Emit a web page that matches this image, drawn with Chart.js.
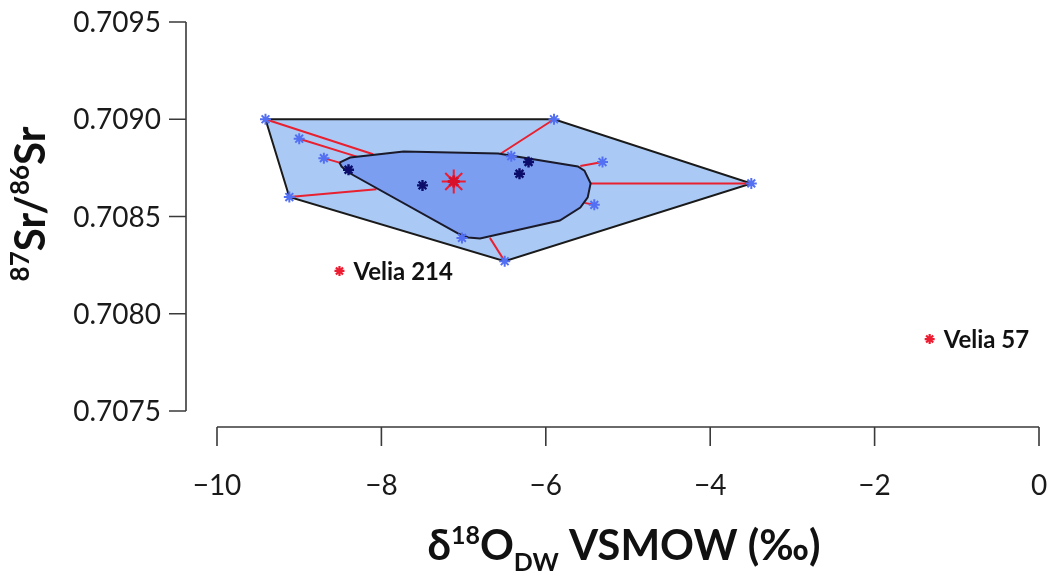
<!DOCTYPE html>
<html><head><meta charset="utf-8">
<script src="https://cdn.jsdelivr.net/npm/chart.js@4.4.0/dist/chart.umd.min.js"></script>
<style>html,body{margin:0;padding:0;background:#fff}#wrap{width:1053px;height:574px;position:relative}</style>
</head><body><div id="wrap"><canvas id="c" width="1053" height="574"></canvas></div>
<script>
// ---- data ----
const xTicks = [-10, -8, -6, -4, -2, 0];
const xTickLabels = ['\u221210', '\u22128', '\u22126', '\u22124', '\u22122', '0'];
const yTicks = [0.7075, 0.7080, 0.7085, 0.7090, 0.7095];
const yTickLabels = ['0.7075', '0.7080', '0.7085', '0.7090', '0.7095'];

const outerHullX = [-9.41, -5.90, -3.50, -6.50, -9.12];
const outerHullY = [0.70900, 0.70900, 0.70867, 0.70827, 0.70860];

const innerHullX = [-8.51, -8.38, -7.73, -6.58, -5.61, -5.53, -5.455, -5.49, -5.58, -5.83, -6.80, -6.945, -7.07, -8.40, -8.485];
const innerHullY = [0.708777, 0.708803, 0.708834, 0.708824, 0.708757, 0.708736, 0.708670, 0.708598, 0.708546, 0.708479, 0.708387, 0.708392, 0.708413, 0.708726, 0.708757];

const lightX = [-9.41, -9.00, -8.70, -9.12, -7.02, -6.50, -6.42, -5.90, -5.31, -5.41, -3.50];
const lightY = [0.70900, 0.70890, 0.70880, 0.70860, 0.70839, 0.70827, 0.70881, 0.70900, 0.70878, 0.70856, 0.70867];

const darkX = [-8.40, -7.50, -6.21, -6.32];
const darkY = [0.70874, 0.70866, 0.70878, 0.70872];

const lineFromX = [-9.41, -9.00, -8.70, -9.12, -6.50, -5.90, -5.31, -3.50, -5.41];
const lineFromY = [0.70900, 0.70890, 0.70880, 0.70860, 0.70827, 0.70900, 0.70878, 0.70867, 0.70856];
const lineToX = [-8.10, -8.24, -8.51, -8.06, -6.68, -6.56, -5.58, -5.455, -5.53];
const lineToY = [0.70882, 0.70880, 0.708777, 0.70864, 0.70839, 0.70882, 0.70876, 0.70867, 0.70857];

const centerX = [-7.12];
const centerY = [0.70868];

const veliaX = [-8.51, -1.33];
const veliaY = [0.70822, 0.70787];
const veliaLabels = ['Velia 214', 'Velia 57'];

// ---- build ----
const pts = (xs, ys) => xs.map((x, i) => ({x, y: ys[i]}));
const closed = (xs, ys) => { const p = pts(xs, ys); p.push({...p[0]}); return p; };

const datasets = [];
datasets.push({data: closed(outerHullX, outerHullY), showLine: true, fill: 'shape',
  backgroundColor: '#aacaf5', borderColor: '#1a1a1a', borderWidth: 2, pointRadius: 0, order: 20});
lineFromX.forEach((x, i) => {
  datasets.push({data: [{x, y: lineFromY[i]}, {x: lineToX[i], y: lineToY[i]}], showLine: true, fill: false,
    borderColor: '#e8202f', borderWidth: 2, pointRadius: 0, order: 15});
});
datasets.push({data: closed(innerHullX, innerHullY), showLine: true, fill: 'shape',
  backgroundColor: '#7b9ef0', borderColor: '#1a1a2a', borderWidth: 2, pointRadius: 0, order: 10});
datasets.push({data: pts(lightX, lightY), pointStyle: 'star', pointRadius: 5.5, borderWidth: 2,
  borderColor: '#5470f2', backgroundColor: '#5470f2', order: 5});
datasets.push({data: pts(darkX, darkY), pointStyle: 'star', pointRadius: 5.5, borderWidth: 2.4,
  borderColor: '#0c0c6a', backgroundColor: '#0c0c6a', order: 4});
datasets.push({data: pts(centerX, centerY), pointStyle: 'star', pointRadius: 12, borderWidth: 2,
  borderColor: '#ee1c30', backgroundColor: '#ee1c30', order: 3});
datasets.push({data: pts(centerX, centerY), pointStyle: 'star', pointRadius: 6, borderWidth: 3,
  borderColor: '#d8102a', backgroundColor: '#d8102a', order: 2});
datasets.push({data: pts(veliaX, veliaY), pointStyle: 'star', pointRadius: 5, borderWidth: 2.2,
  borderColor: '#ee1c30', backgroundColor: '#ee1c30', order: 1});
const veliaIndex = datasets.length - 1;

function drawRich(ctx, parts, x, y) {
  let total = 0;
  parts.forEach(p => { ctx.font = 'bold ' + p.size + 'px Lato'; p.w = ctx.measureText(p.t).width; total += p.w; });
  let cx = x - total / 2;
  ctx.textAlign = 'left';
  ctx.textBaseline = 'alphabetic';
  parts.forEach(p => { ctx.font = 'bold ' + p.size + 'px Lato'; ctx.fillText(p.t, cx, y + (p.dy || 0)); cx += p.w; });
}

const axesPlugin = {
  id: 'axesPlugin',
  afterDraw(chart) {
    const ctx = chart.ctx, xs = chart.scales.x, ys = chart.scales.y, ca = chart.chartArea;
    ctx.save();
    ctx.strokeStyle = '#3a3a3a';
    ctx.lineWidth = 1.6;
    // y axis
    const ax = ca.left - 31;
    ctx.beginPath();
    ctx.moveTo(ax, ys.getPixelForValue(yTicks[yTicks.length - 1]));
    ctx.lineTo(ax, ys.getPixelForValue(yTicks[0]));
    yTicks.forEach(v => { const py = ys.getPixelForValue(v); ctx.moveTo(ax - 17, py); ctx.lineTo(ax, py); });
    ctx.stroke();
    ctx.fillStyle = '#1a1a1a';
    ctx.font = '28px Lato';
    ctx.textAlign = 'right';
    ctx.textBaseline = 'middle';
    yTicks.forEach((v, i) => ctx.fillText(yTickLabels[i], ax - 25, ys.getPixelForValue(v) + 1));
    // x axis
    const ay = ca.bottom + 16;
    ctx.beginPath();
    ctx.moveTo(xs.getPixelForValue(xTicks[0]), ay);
    ctx.lineTo(xs.getPixelForValue(xTicks[xTicks.length - 1]), ay);
    xTicks.forEach(v => { const px = xs.getPixelForValue(v); ctx.moveTo(px, ay); ctx.lineTo(px, ay + 19); });
    ctx.stroke();
    ctx.textAlign = 'center';
    xTicks.forEach((v, i) => ctx.fillText(xTickLabels[i], xs.getPixelForValue(v), ay + 59));
    // velia labels
    const meta = chart.getDatasetMeta(veliaIndex);
    ctx.fillStyle = '#111';
    ctx.font = 'bold 24px Lato';
    ctx.textAlign = 'left';
    ctx.textBaseline = 'middle';
    meta.data.forEach((el, i) => ctx.fillText(veliaLabels[i], el.x + 14, el.y + 1));
    // x title
    drawRich(ctx, [
      {t: '\u03b4', size: 42}, {t: '18', size: 25, dy: -16}, {t: 'O', size: 42},
      {t: 'DW', size: 25, dy: 11}, {t: ' VSMOW (\u2030)', size: 42}
    ], (ca.left + ca.right) / 2 - 4, 560);
    // y title
    ctx.save();
    ctx.translate(45, 204);
    ctx.rotate(-Math.PI / 2);
    drawRich(ctx, [
      {t: '87', size: 26, dy: -16}, {t: 'Sr/', size: 42}, {t: '86', size: 26, dy: -16}, {t: 'Sr', size: 42}
    ], 0, 0);
    ctx.restore();
    ctx.restore();
  }
};

new Chart(document.getElementById('c'), {
  type: 'scatter',
  data: {datasets},
  options: {
    responsive: false,
    devicePixelRatio: 1,
    animation: false,
    clip: false,
    layout: {padding: {left: 217, right: 10, top: 22, bottom: 163}},
    scales: {
      x: {type: 'linear', min: -10, max: 0, display: false},
      y: {type: 'linear', min: 0.7075, max: 0.7095, display: false}
    },
    plugins: {legend: {display: false}, tooltip: {enabled: false}}
  },
  plugins: [axesPlugin]
});
</script>
</body></html>
